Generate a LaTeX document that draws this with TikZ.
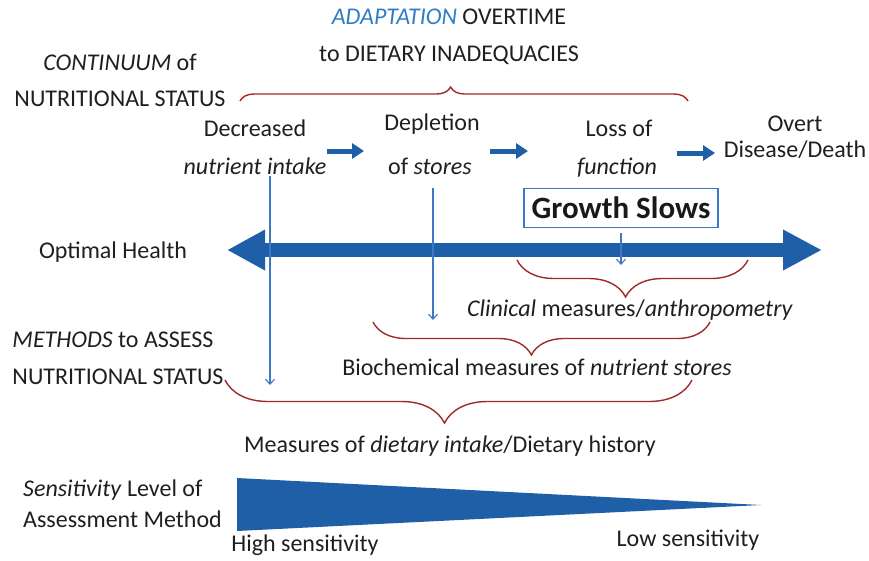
\documentclass[tikz,border=0pt]{standalone}
\usepackage{fontspec}
\setmainfont{Carlito}
\usetikzlibrary{arrows.meta,decorations.pathreplacing,positioning}

\definecolor{bandblue}{HTML}{1F5FA8}
\definecolor{lineblue}{HTML}{3B78C6}
\definecolor{bracered}{HTML}{A02A2A}
\definecolor{adaptblue}{HTML}{2F7DC6}

\tikzset{
  lbl/.style={font=\fontsize{24}{27}\selectfont, text=black!88, inner sep=1pt},
  stepar/.style={-{Triangle[length=12pt,width=15pt]}, line width=5pt, bandblue},
  drop/.style={-{Straight Barb[length=5pt,width=9pt]}, line width=1.1pt, lineblue},
  brc/.style={draw=bracered, line width=1.4pt, decorate,
    decoration={brace, amplitude=#1, aspect=0.47}},
  mbrc/.style={draw=bracered, line width=1.4pt, decorate,
    decoration={brace, mirror, amplitude=#1, aspect=0.47}},
  growbox/.style={draw=lineblue, line width=1.2pt, inner xsep=4pt, inner ysep=3pt,
    font=\fontsize{31}{33}\selectfont\bfseries, text=black!90,
    minimum width=194pt, minimum height=39pt},
}

\begin{document}
\begin{tikzpicture}[x=1pt, y=-1pt]
    \useasboundingbox (0,0) rectangle (869,560);

    % 1. Tieu de va nhan ben trai
    \node[lbl] (adapt) at (449,17) {\textit{\textcolor{adaptblue}{ADAPTATION}} OVERTIME};
    \node[lbl] (inadeq) at (449,55) {to DIETARY INADEQUACIES};
    \node[lbl] (cont1) at (120,62) {\textit{CONTINUUM} of};
    \node[lbl] (cont2) at (120,99) {NUTRITIONAL STATUS};

    % 2. Cac giai doan
    \node[lbl] (dec1) at (255,128) {Decreased};
    \node[lbl] (dec2) at (255,166) {\textit{nutrient intake}};
    \node[lbl] (dep1) at (432,124) {Depletion};
    \node[lbl] (dep2) at (430,166) {of \textit{stores}};
    \node[lbl] (loss1) at (619,128) {Loss of};
    \node[lbl] (loss2) at (617,168) {\textit{function}};
    \node[lbl] (overt1) at (795,124) {Overt};
    \node[lbl] (overt2) at (795,150) {Disease/Death};

    \coordinate (a1s) at (327,151); \coordinate (a1e) at (364,151);
    \coordinate (a2s) at (490,151); \coordinate (a2e) at (528,151);
    \coordinate (a3s) at (677,153); \coordinate (a3e) at (715,153);
    \draw[stepar] (a1s) -- (a1e);
    \draw[stepar] (a2s) -- (a2e);
    \draw[stepar] (a3s) -- (a3e);

    % 3. Truc suc khoe
    \node[lbl] (optimal) at (113,252) {Optimal Health};
    \coordinate (leftend) at (227,250);
    \coordinate (rightend) at (822,250);
    \draw[bandblue, line width=14pt,
      {Triangle[length=38pt,width=38pt]}-{Triangle[length=39pt,width=38pt]}]
      (leftend) -- (rightend);

    \node[growbox] (grow) at (621,208) {Growth Slows};

    % 4. Cac ngoac do
    \draw[brc=14] (240,101) -- (688,101);
    \draw[mbrc=37] (517,260) -- (748,260);
    \draw[mbrc=33] (373,322) -- (710,322);
    \draw[mbrc=43] (225,380) -- (692,380);

    % 5. Mui ten xuong
    \coordinate (dropA) at (270,385);
    \coordinate (dropB) at (433,320);
    \coordinate (dropC) at (621,265);
    \draw[drop] (dec2.south -| dropA) -- (dropA);
    \draw[drop] (433,188) -- (dropB);
    \draw[drop] ([yshift=-5pt]grow.south) -- (dropC);

    % 6. Phuong phap danh gia
    \node[lbl] (clin) at (630,310) {\textit{Clinical} measures/\textit{anthropometry}};
    \node[lbl] (meth1) at (113,340) {\textit{METHODS} to ASSESS};
    \node[lbl] (meth2) at (118,377) {NUTRITIONAL STATUS};
    \node[lbl] (bio) at (537,367) {Biochemical measures of \textit{nutrient stores}};
    \node[lbl] (diet) at (450,446) {Measures of \textit{dietary intake}/Dietary history};

    % 7. Do nhay
    \node[lbl, anchor=west] (sens1) at (22,490) {\textit{Sensitivity} Level of};
    \node[lbl, anchor=west] (sens2) at (22,519) {Assessment Method};
    \fill[bandblue] (237,478) -- (237,531) -- (761,505) -- cycle;
    \node[lbl] (high) at (305,545) {High sensitivity};
    \node[lbl] (low) at (688,540) {Low sensitivity};

\end{tikzpicture}
\end{document}
